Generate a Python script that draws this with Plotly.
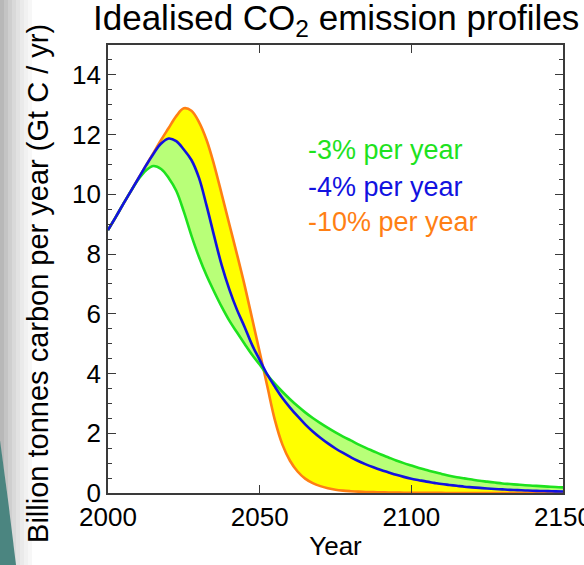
import plotly.graph_objects as go

years = [2000 + 2.5 * i for i in range(61)]

green_3pct = [8.80, 9.23, 9.67, 10.10, 10.50, 10.80, 10.95, 10.85, 10.55, 10.12,
              9.42, 8.62, 7.90, 7.28, 6.74, 6.23, 5.77, 5.38, 5.00, 4.63,
              4.30, 3.96, 3.66, 3.39, 3.14, 2.91, 2.70, 2.51, 2.34, 2.18,
              2.03, 1.89, 1.76, 1.63, 1.51, 1.40, 1.29, 1.19, 1.09, 1.00,
              0.92, 0.84, 0.77, 0.70, 0.64, 0.58, 0.53, 0.49, 0.45, 0.41,
              0.38, 0.35, 0.32, 0.30, 0.28, 0.26, 0.245, 0.23, 0.215, 0.20, 0.19]

blue_4pct = [8.80, 9.23, 9.67, 10.10, 10.53, 10.96, 11.36, 11.70, 11.87, 11.78,
             11.50, 11.15, 10.55, 9.62, 8.60, 7.62, 6.82, 6.14, 5.57, 4.96,
             4.46, 3.97, 3.56, 3.18, 2.86, 2.57, 2.30, 2.06, 1.85, 1.66,
             1.49, 1.34, 1.20, 1.07, 0.96, 0.86, 0.77, 0.69, 0.61, 0.54,
             0.48, 0.43, 0.38, 0.34, 0.30, 0.27, 0.24, 0.21, 0.19, 0.17,
             0.15, 0.135, 0.12, 0.105, 0.095, 0.085, 0.075, 0.068, 0.062, 0.056, 0.05]

orange_10pct = [8.80, 9.23, 9.67, 10.10, 10.53, 10.96, 11.39, 11.82, 12.22, 12.62,
                12.88, 12.80, 12.42, 11.82, 10.98, 10.00, 9.00, 8.00, 6.97, 5.85,
                4.72, 3.58, 2.45, 1.62, 1.08, 0.72, 0.48, 0.33, 0.23, 0.16,
                0.11, 0.08, 0.06, 0.045, 0.035, 0.028, 0.022, 0.017, 0.013, 0.010,
                0.008, 0.006, 0.005, 0.004, 0.003, 0.002, 0.002, 0.001, 0.001, 0.0,
                0.0, 0.0, 0.0, 0.0, 0.0, 0.0, 0.0, 0.0, 0.0, 0.0, 0.0]

labels = ["-3% per year", "-4% per year", "-10% per year"]
x_ticks = [2000, 2050, 2100, 2150]
y_ticks = [0, 2, 4, 6, 8, 10, 12, 14]

GREEN = "#1ee21e"
BLUE = "#1212e0"
ORANGE = "#ff7f14"
FILL_GREEN = "#b8ff78"
FILL_YELLOW = "#ffff00"
FONT = "Liberation Sans, Arial, Helvetica, sans-serif"

fig = go.Figure()
# fill layers
fig.add_trace(go.Scatter(x=years, y=green_3pct, mode="lines", line=dict(width=0, shape="spline"),
                         showlegend=False, hoverinfo="skip"))
fig.add_trace(go.Scatter(x=years, y=blue_4pct, mode="lines", line=dict(width=0, shape="spline"),
                         fill="tonexty", fillcolor=FILL_GREEN, showlegend=False, hoverinfo="skip"))
fig.add_trace(go.Scatter(x=years, y=orange_10pct, mode="lines", line=dict(width=0, shape="spline"),
                         fill="tonexty", fillcolor=FILL_YELLOW, showlegend=False, hoverinfo="skip"))
# lines
fig.add_trace(go.Scatter(x=years, y=orange_10pct, mode="lines", name=labels[2],
                         line=dict(color=ORANGE, width=2.6, shape="spline"), showlegend=False))
fig.add_trace(go.Scatter(x=years, y=green_3pct, mode="lines", name=labels[0],
                         line=dict(color=GREEN, width=2.6, shape="spline"), showlegend=False))
fig.add_trace(go.Scatter(x=years, y=blue_4pct, mode="lines", name=labels[1],
                         line=dict(color=BLUE, width=2.6, shape="spline"), showlegend=False))

for txt, col, yv in zip(labels, [GREEN, BLUE, ORANGE], [11.48, 10.24, 9.07]):
    fig.add_annotation(x=2065.4, y=yv, xref="x", yref="y", text=txt, showarrow=False,
                       xanchor="left", yanchor="middle", font=dict(size=27, color=col, family=FONT))

# title
fig.add_annotation(x=0.5, y=1, xref="paper", yref="paper", yanchor="bottom", xanchor="center",
                   yshift=1, text="Idealised CO<sub>2</sub> emission profiles", showarrow=False,
                   font=dict(size=35, color="black", family=FONT))
# y title
fig.add_annotation(x=-0.154, y=(493 - 283) / 448, xref="paper", yref="paper", xanchor="center",
                   yanchor="middle", textangle=-90,
                   text="Billion tonnes carbon per year (Gt C / yr)", showarrow=False,
                   font=dict(size=29, color="black", family=FONT))

# left slide background: gray shade strip and teal wedge
grays = ["#b8b8b8", "#c4c4c4", "#cfcfcf", "#d9d9d9", "#e2e2e2", "#eaeaea", "#f1f1f1", "#f7f7f7"]
for i, g in enumerate(grays):
    x0 = (0 + i * 4 - 108) / 455
    x1 = (4 + i * 4 - 108) / 455
    fig.add_shape(type="rect", xref="paper", yref="paper", x0=x0, x1=x1,
                  y0=(493 - 565) / 448, y1=(493 - 0) / 448, fillcolor=g, line=dict(width=0),
                  layer="below")
p = lambda px, py: f"{(px - 108) / 455:.4f},{(493 - py) / 448:.4f}"
fig.add_shape(type="path", xref="paper", yref="paper",
              path=f"M {p(0, 440)} L {p(8, 500)} L {p(16, 565)} L {p(0, 565)} Z",
              fillcolor="#4b8580", line=dict(width=0), layer="below")

axis_common = dict(showline=True, linecolor="#3a3a3a", linewidth=1.6, mirror="allticks",
                   ticks="inside", tickcolor="#3a3a3a", tickwidth=1.3, ticklen=8,
                   showgrid=False, zeroline=False, automargin=False, ticklabeloverflow="allow",
                   tickfont=dict(size=26, color="black", family=FONT))

fig.update_xaxes(range=[2000, 2150], tickvals=x_ticks, ticktext=[str(v) for v in x_ticks],
                 title=dict(text="Year", font=dict(size=26, color="black", family=FONT), standoff=6),
                 **axis_common)
fig.update_yaxes(range=[0, 15], tickvals=y_ticks, ticktext=[str(v) for v in y_ticks],
                 minor=dict(dtick=0.5, tick0=0, ticks="inside", ticklen=4, tickcolor="#3a3a3a",
                            tickwidth=1.2, showgrid=False),
                 **axis_common)

fig.update_layout(width=584, height=565, autosize=False,
                  margin=dict(l=108, r=21, t=45, b=72, autoexpand=False),
                  paper_bgcolor="white", plot_bgcolor="white", showlegend=False)

fig.write_html("out.html",
               config={"displayModeBar": False, "responsive": False},
               post_script=("document.body.style.margin='0px';document.body.style.padding='0px';"
                            "document.body.style.overflow='hidden';"
                            "document.documentElement.style.overflow='hidden';"))
